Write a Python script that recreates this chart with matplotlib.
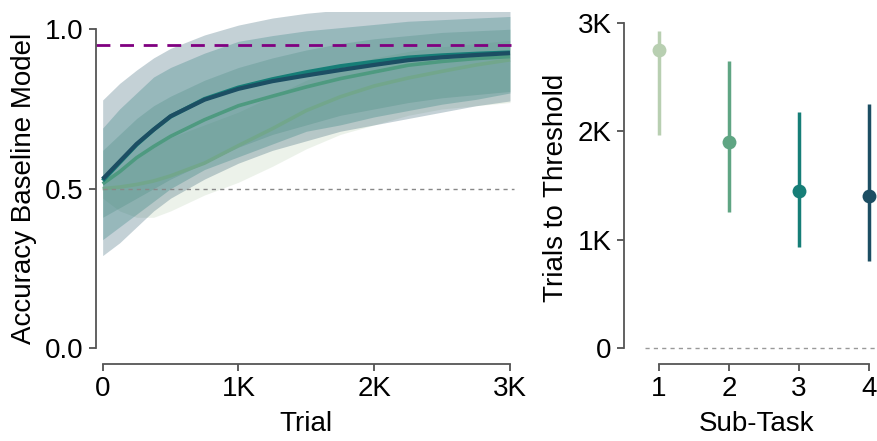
import numpy as np
import matplotlib
matplotlib.use("Agg")
import matplotlib.pyplot as plt

plt.rcParams['font.family'] = ['Liberation Sans', 'DejaVu Sans']

# ---------------- data ----------------
trials = [0, 125, 250, 375, 500, 750, 1000, 1250, 1500, 1750, 2000, 2250, 2500, 2750, 3000]

# mean accuracy per sub-task (1 = light ... 4 = dark)
mean1 = [0.500, 0.505, 0.513, 0.524, 0.540, 0.580, 0.635, 0.688, 0.745, 0.788, 0.822, 0.847, 0.868, 0.888, 0.904]
mean2 = [0.515, 0.553, 0.597, 0.632, 0.664, 0.716, 0.760, 0.790, 0.819, 0.845, 0.866, 0.887, 0.899, 0.908, 0.914]
mean3 = [0.525, 0.582, 0.638, 0.685, 0.726, 0.781, 0.817, 0.843, 0.865, 0.884, 0.898, 0.911, 0.918, 0.923, 0.927]
mean4 = [0.530, 0.585, 0.640, 0.685, 0.727, 0.779, 0.813, 0.837, 0.855, 0.872, 0.888, 0.903, 0.912, 0.919, 0.925]

upper1 = [0.530, 0.560, 0.600, 0.630, 0.660, 0.700, 0.740, 0.790, 0.840, 0.880, 0.910, 0.930, 0.945, 0.955, 0.965]
lower1 = [0.470, 0.430, 0.410, 0.410, 0.430, 0.480, 0.520, 0.570, 0.625, 0.670, 0.700, 0.730, 0.750, 0.760, 0.770]
upper2 = [0.620, 0.670, 0.720, 0.760, 0.790, 0.840, 0.880, 0.910, 0.935, 0.955, 0.970, 0.980, 0.990, 0.995, 1.000]
lower2 = [0.410, 0.440, 0.470, 0.500, 0.530, 0.580, 0.630, 0.670, 0.700, 0.730, 0.750, 0.770, 0.785, 0.795, 0.805]
upper3 = [0.690, 0.750, 0.800, 0.850, 0.880, 0.925, 0.962, 0.980, 0.995, 1.005, 1.015, 1.025, 1.030, 1.035, 1.040]
lower3 = [0.340, 0.380, 0.420, 0.460, 0.500, 0.560, 0.600, 0.640, 0.680, 0.700, 0.725, 0.745, 0.765, 0.780, 0.800]
upper4 = [0.778, 0.830, 0.872, 0.910, 0.940, 0.982, 1.013, 1.035, 1.050, 1.060, 1.060, 1.060, 1.060, 1.060, 1.060]
lower4 = [0.290, 0.330, 0.380, 0.430, 0.470, 0.530, 0.580, 0.620, 0.650, 0.680, 0.700, 0.720, 0.740, 0.760, 0.775]

baseline_chance = 0.5
baseline_model = 0.95

subtasks = [1, 2, 3, 4]
ttt_mean = [2750, 1900, 1450, 1400]
ttt_low = [1970, 1260, 930, 800]
ttt_high = [2930, 2650, 2180, 2250]

colors = ['#b8cfb1', '#5fa583', '#167e77', '#1c4e63']
line_colors = ['#72a68c', '#4e9a80', '#167e77', '#1c4e63']

W, H = 878, 441
fig = plt.figure(figsize=(W / 100, H / 100), dpi=100)


def pos(l, r, t, b):
    return [l / W, 1 - b / H, (r - l) / W, (b - t) / H]


spine_col = '#555555'
FS = 20

# ---------------- left panel ----------------
ax1 = fig.add_axes(pos(96, 515, 12, 364))
means = [mean1, mean2, mean3, mean4]
uppers = [upper1, upper2, upper3, upper4]
lowers = [lower1, lower2, lower3, lower4]
for i in range(4):
    ax1.fill_between(trials, lowers[i], uppers[i], color=colors[i], alpha=0.26, lw=0)
for i in range(4):
    ax1.plot(trials, means[i], color=line_colors[i], lw=3.0 if i >= 2 else 2.6,
             solid_capstyle='butt', solid_joinstyle='round')
ax1.plot([0, 3030], [baseline_chance] * 2, color='#888888', lw=1.0, ls=(0, (3, 3)), clip_on=False)
ax1.axhline(baseline_model, color='#800080', lw=2.0, ls=(0, (5, 3.5)), xmax=(511 - 96) / (515 - 96))

ax1.set_xlim(-49, 3037)
ax1.set_ylim(-0.05, 1.054)
ax1.set_xticks([0, 1000, 2000, 3000])
ax1.set_xticklabels(['0', '1K', '2K', '3K'])
ax1.set_yticks([0, 0.5, 1.0])
ax1.set_yticklabels(['0.0', '0.5', '1.0'])
ax1.spines['left'].set_bounds(0, 1)
ax1.spines['bottom'].set_bounds(0, 3000)
ax1.set_xlabel('Trial', fontsize=FS, labelpad=6)
ax1.set_ylabel('Accuracy Baseline Model', fontsize=FS, labelpad=6)

# ---------------- right panel ----------------
ax2 = fig.add_axes(pos(624, 890, 12, 364))
ax2.plot([0.8, 4.3], [0, 0], color='#999999', lw=1.0, ls=(0, (3, 3)), clip_on=False)
for i, s in enumerate(subtasks):
    ax2.plot([s, s], [ttt_low[i], ttt_high[i]], color=colors[i], lw=2.5, solid_capstyle='butt')
    ax2.plot(s, ttt_mean[i], 'o', color=colors[i], ms=10, mec='none')
ax2.set_xlim(0.5, 4.3)
ax2.set_ylim(-148, 3102)
ax2.set_xticks(subtasks)
ax2.set_xticklabels([str(s) for s in subtasks])
ax2.set_yticks([0, 1000, 2000, 3000])
ax2.set_yticklabels(['0', '1K', '2K', '3K'])
ax2.spines['left'].set_bounds(0, 3000)
ax2.spines['bottom'].set_bounds(1, 4)
ax2.set_xlabel('Sub-Task', fontsize=FS, labelpad=6)
ax2.set_ylabel('Trials to Threshold', fontsize=FS, labelpad=6)

for ax in (ax1, ax2):
    for side in ('top', 'right'):
        ax.spines[side].set_visible(False)
    for side in ('left', 'bottom'):
        ax.spines[side].set_color(spine_col)
        ax.spines[side].set_linewidth(1.3)
    ax.tick_params(axis='both', labelsize=FS, length=5, width=1.1, color='#333333', pad=4)
    ax.patch.set_alpha(0)

fig.savefig('out.png', dpi=100)
